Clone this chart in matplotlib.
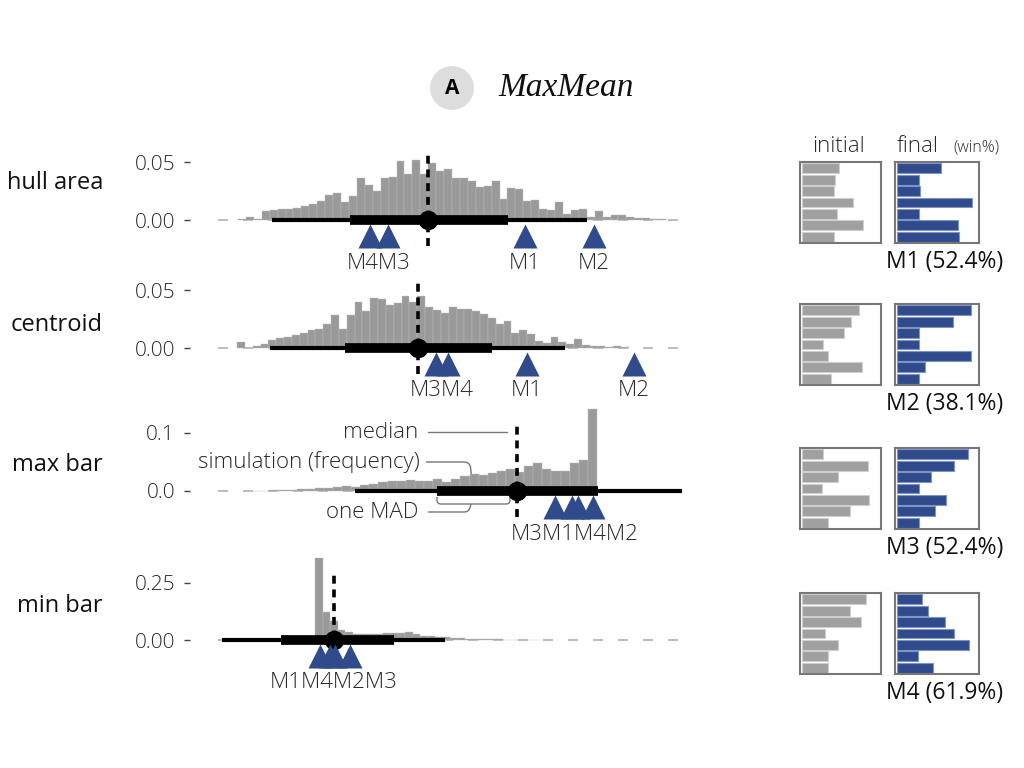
import numpy as np
import matplotlib
matplotlib.use("Agg")
import matplotlib.pyplot as plt
from matplotlib.path import Path
from matplotlib.patches import PathPatch

plt.rcParams['font.family'] = ['Open Sans', 'DejaVu Sans']

# ------------------------------------------------------------------
# data (left: statistic of each model vs simulated distribution,
#       positions on a 0-100 scale of the statistic)
# ------------------------------------------------------------------
stat_names = ["hull area", "centroid", "max bar", "min bar"]
models = ["M1", "M2", "M3", "M4"]

hull_freq = [0.0006, 0.003, 0.0006, 0.0076, 0.0082, 0.0091, 0.0097, 0.0106, 0.0121,
             0.0136, 0.0167, 0.0218, 0.0236, 0.0158, 0.0206, 0.0364, 0.0303, 0.0248,
             0.0364, 0.037, 0.0506, 0.040, 0.0515, 0.040, 0.0491, 0.0424, 0.044,
             0.0364, 0.0358, 0.0333, 0.0288, 0.0294, 0.0333, 0.0182, 0.0279, 0.0267,
             0.0167, 0.0173, 0.0091, 0.0082, 0.0158, 0.0055, 0.0082, 0.0091, 0.0024,
             0.0076, 0.0024, 0.0045, 0.0045, 0.0024, 0.0015, 0.0015, 0.0006, 0.0006]
centroid_freq = [0.0055, 0.0, 0.0017, 0.0036, 0.0069, 0.009, 0.0097, 0.011, 0.0133,
                 0.0152, 0.016, 0.0207, 0.0285, 0.0168, 0.0285, 0.040, 0.0318, 0.0431,
                 0.0423, 0.0373, 0.0387, 0.0445, 0.040, 0.0445, 0.0354, 0.0326, 0.0298,
                 0.0354, 0.0334, 0.0334, 0.0318, 0.029, 0.0257, 0.0207, 0.0229, 0.0133,
                 0.0152, 0.0119, 0.0064, 0.0041, 0.0097, 0.0055, 0.0036, 0.0077, 0.003,
                 0.0017, 0.0017, 0.001, 0.0017, 0.0008]
maxbar_freq = [0.0005, 0.0008, 0.001, 0.0015, 0.002, 0.003, 0.004, 0.005, 0.006, 0.007,
               0.008, 0.007, 0.0098, 0.0126, 0.0155, 0.0167, 0.0172, 0.0184, 0.0172,
               0.0167, 0.0213, 0.0155, 0.0213, 0.0259, 0.0287, 0.027, 0.031, 0.0345,
               0.0385, 0.0328, 0.0425, 0.049, 0.0385, 0.034, 0.034, 0.048, 0.053, 0.142]
minbar_freq = [0.36, 0.125, 0.085, 0.045, 0.034, 0.028, 0.026, 0.026, 0.028, 0.03, 0.03,
               0.03, 0.034, 0.025, 0.019, 0.017, 0.015, 0.012, 0.009, 0.007, 0.006,
               0.005, 0.004, 0.003, 0.003, 0.002, 0.002, 0.002, 0.0015, 0.0015]

freqs = [hull_freq, centroid_freq, maxbar_freq, minbar_freq]
bin_span = [(7.6, 93.2), (7.4, 85.8), (10.2, 79.4), (23.0, 68.0)]
support = [(3.6, 98.0), (3.6, 98.0), (3.6, 98.0), (3.6, 98.0)]
full_range = [(14.4, 77.4), (14.0, 73.0), (31.0, 96.4), (4.4, 49.0)]
mad_range = [(30.0, 61.6), (29.0, 58.4), (47.4, 79.6), (16.2, 38.8)]
medians = [45.6, 43.6, 63.4, 26.8]

# model scores, order M1..M4
hull_scores = [65.0, 78.8, 37.6, 34.0]
centroid_scores = [65.4, 86.8, 47.2, 49.6]
maxbar_scores = [74.4, 78.6, 71.0, 75.6]
minbar_scores = [24.0, 27.0, 30.0, 26.0]
scores = [hull_scores, centroid_scores, maxbar_scores, minbar_scores]

y_ticks = [[0.0, 0.05], [0.0, 0.05], [0.0, 0.1], [0.0, 0.25]]
y_ticklabels = [["0.00", "0.05"], ["0.00", "0.05"], ["0.0", "0.1"], ["0.00", "0.25"]]

# right: initial / final distributions (win%) per model
initial_M1 = [0.46, 0.41, 0.40, 0.65, 0.44, 0.77, 0.40]
final_M1 = [0.53, 0.27, 0.28, 0.92, 0.27, 0.74, 0.76]
initial_M2 = [0.72, 0.62, 0.53, 0.26, 0.33, 0.76, 0.36]
final_M2 = [0.90, 0.68, 0.26, 0.26, 0.90, 0.34, 0.26]
initial_M3 = [0.26, 0.83, 0.45, 0.25, 0.85, 0.60, 0.32]
final_M3 = [0.86, 0.69, 0.41, 0.27, 0.59, 0.46, 0.27]
initial_M4 = [0.81, 0.60, 0.75, 0.29, 0.45, 0.32, 0.32]
final_M4 = [0.30, 0.38, 0.58, 0.69, 0.88, 0.25, 0.44]
initials = [initial_M1, initial_M2, initial_M3, initial_M4]
finals = [final_M1, final_M2, final_M3, final_M4]
win_pct = [52.4, 38.1, 52.4, 61.9]

# ------------------------------------------------------------------
# layout / style
# ------------------------------------------------------------------
W, H = 1024, 768
GRAY = '#9a9a9a'
NAVY = '#2f4b8c'
TXT = '#2a2a2a'
zero_px = [220, 348, 491, 640]
px_per_tick = [58, 58, 58, 57]      # pixel height of the upper tick value
label_px = [183, 325, 465, 606]

fig = plt.figure(figsize=(10.24, 7.68), dpi=100)


def fbox(x0, y0, x1, y1):
    """pixel box (top-left origin) -> figure fraction rect"""
    return [x0 / W, 1 - y1 / H, (x1 - x0) / W, (y1 - y0) / H]


def rounded_path(pts, r, sx, sy):
    """polyline with rounded corners; r in pixels, sx/sy data units per pixel"""
    pts = np.asarray(pts, float)
    scale = np.array([sx, sy])
    pp = pts / scale
    verts, codes = [pp[0]], [Path.MOVETO]
    for i in range(1, len(pp) - 1):
        p0, p1, p2 = pp[i - 1], pp[i], pp[i + 1]
        d0 = (p0 - p1) / np.linalg.norm(p0 - p1)
        d2 = (p2 - p1) / np.linalg.norm(p2 - p1)
        verts += [p1 + d0 * r, p1, p1 + d2 * r]
        codes += [Path.LINETO, Path.CURVE3, Path.CURVE3]
    verts.append(pp[-1])
    codes.append(Path.LINETO)
    return Path(np.array(verts) * scale, codes)


for i, name in enumerate(stat_names):
    z = zero_px[i]
    ax = fig.add_axes(fbox(200, z - 88, 700, z + 55))
    ax.patch.set_alpha(0)
    upp = y_ticks[i][1] / px_per_tick[i]          # data units per pixel
    xpp = 100 / 500.0
    ax.set_xlim(0, 100)
    ax.set_ylim(-55 * upp, 88 * upp)

    # simulated support baseline
    ax.plot(support[i], [0, 0], color='#b0b0b0', lw=1.2, ls=(0, (6, 9)), zorder=1)

    # histogram
    f = freqs[i]
    edges = np.linspace(bin_span[i][0], bin_span[i][1], len(f) + 1)
    ax.bar(edges[:-1], f, width=np.diff(edges), align='edge', color=GRAY,
           edgecolor='#bdbdbd', linewidth=0.3, zorder=2)

    # interval
    ax.plot(full_range[i], [0, 0], color='black', lw=3, solid_capstyle='butt', zorder=3)
    ax.plot(mad_range[i], [0, 0], color='black', lw=7, solid_capstyle='butt', zorder=3)
    ax.plot([medians[i], medians[i]], [-26 * upp, 68 * upp], color='black', lw=2.6,
            ls=(0, (2.2, 1.6)), zorder=4)
    ax.plot(medians[i], 0, 'o', color='black', ms=13, zorder=5)

    # model markers
    s = scores[i]
    ax.plot(s, [-16 * upp] * len(s), '^', color=NAVY, ms=17, mec='none', zorder=6)
    order = np.argsort(s)
    groups = [[order[0]]]
    for k in order[1:]:
        if s[k] - s[groups[-1][-1]] < 6:
            groups[-1].append(k)
        else:
            groups.append([k])
    for g in groups:
        ax.text(np.mean([s[k] for k in g]), -43 * upp, "".join(models[k] for k in g),
                ha='center', va='center', fontsize=16, color=TXT,
                fontweight='light')

    # axes style
    for sp in ax.spines.values():
        sp.set_visible(False)
    ax.spines['left'].set_position(('outward', 7))
    ax.set_xticks([])
    ax.set_yticks(y_ticks[i])
    ax.set_yticklabels(y_ticklabels[i])
    ax.tick_params(axis='y', length=4, width=1, color='#444444', pad=7,
                   labelsize=15, labelcolor=TXT)
    for t in ax.get_yticklabels():
        t.set_fontweight('light')

    fig.text(103 / W, 1 - label_px[i] / H, name, ha='right', va='center',
             fontsize=17, color='#111111', fontweight='medium')

    # guide annotations on the max bar panel
    if name == "max bar":
        m = medians[i]
        gc = '#777777'
        kw = dict(ha='right', va='center', fontsize=16, color=TXT, fontweight='light')
        ax.text(m - 19.8, 59 * upp, "median", **kw)
        ax.plot([m - 17.8, m - 2.0], [59 * upp] * 2, color=gc, lw=1)
        ax.text(m - 19.4, 29 * upp, "simulation (frequency)", **kw)
        p = rounded_path([(m - 18.2, 29 * upp), (m - 9.4, 29 * upp),
                          (m - 9.0, 10 * upp)], 6, xpp, upp)
        ax.add_patch(PathPatch(p, fc='none', ec=gc, lw=1))
        ax.text(m - 19.8, -21 * upp, "one MAD", **kw)
        p = rounded_path([(m - 17.8, -21 * upp), (m - 9.6, -21 * upp),
                          (m - 9.2, -13 * upp)], 5, xpp, upp)
        ax.add_patch(PathPatch(p, fc='none', ec=gc, lw=1))
        p = rounded_path([(mad_range[i][0], -6 * upp), (mad_range[i][0], -13 * upp),
                          (m - 1.4, -13 * upp), (m - 1.4, -6 * upp)], 4, xpp, upp)
        ax.add_patch(PathPatch(p, fc='none', ec=gc, lw=1))

# ------------------------------------------------------------------
# right column: initial vs final
# ------------------------------------------------------------------
box_top = [162, 304, 448, 593]
for r in range(4):
    t = box_top[r]
    for x0, x1, vals, col, ecol in [(800, 881, initials[r], '#a0a0a0', '#cfcfcf'),
                                    (895, 979, finals[r], NAVY, '#8094c4')]:
        bx = fig.add_axes(fbox(x0, t, x1, t + 81))
        ypos = np.arange(len(vals))
        bx.barh(ypos, vals, height=0.86, color=col, edgecolor=ecol, linewidth=0.8)
        bx.set_xlim(-0.03, 1.0)
        bx.set_ylim(len(vals) - 0.45, -0.55)
        bx.set_xticks([])
        bx.set_yticks([])
        for sp in bx.spines.values():
            sp.set_color('#777777')
            sp.set_linewidth(1.5)
    fig.text(1003 / W, 1 - (t + 100) / H, f"{models[r]} ({win_pct[r]}%)",
             ha='right', va='center', fontsize=16.5, color='#111111',
             fontweight='medium')

fig.text(838 / W, 1 - 146 / H, "initial", ha='center', va='center', fontsize=16,
         color=TXT, fontweight='light')
fig.text(918 / W, 1 - 146 / H, "final", ha='center', va='center', fontsize=16,
         color=TXT, fontweight='light')
fig.text(976 / W, 1 - 148 / H, "(win%)", ha='center', va='center', fontsize=11.5,
         color=TXT, fontweight='light')

# title
fig.text(452 / W, 1 - 88 / H, "A", ha='center', va='center', fontsize=15,
         fontweight='bold', color='black',
         bbox=dict(boxstyle='circle,pad=0.55', fc='#dddddd', ec='none'))
fig.text(498 / W, 1 - 88 / H, "MaxMean", ha='left', va='center', fontsize=24,
         style='italic', family=['Liberation Serif', 'DejaVu Serif'], color='#111111')

fig.savefig("out.png", dpi=100)
